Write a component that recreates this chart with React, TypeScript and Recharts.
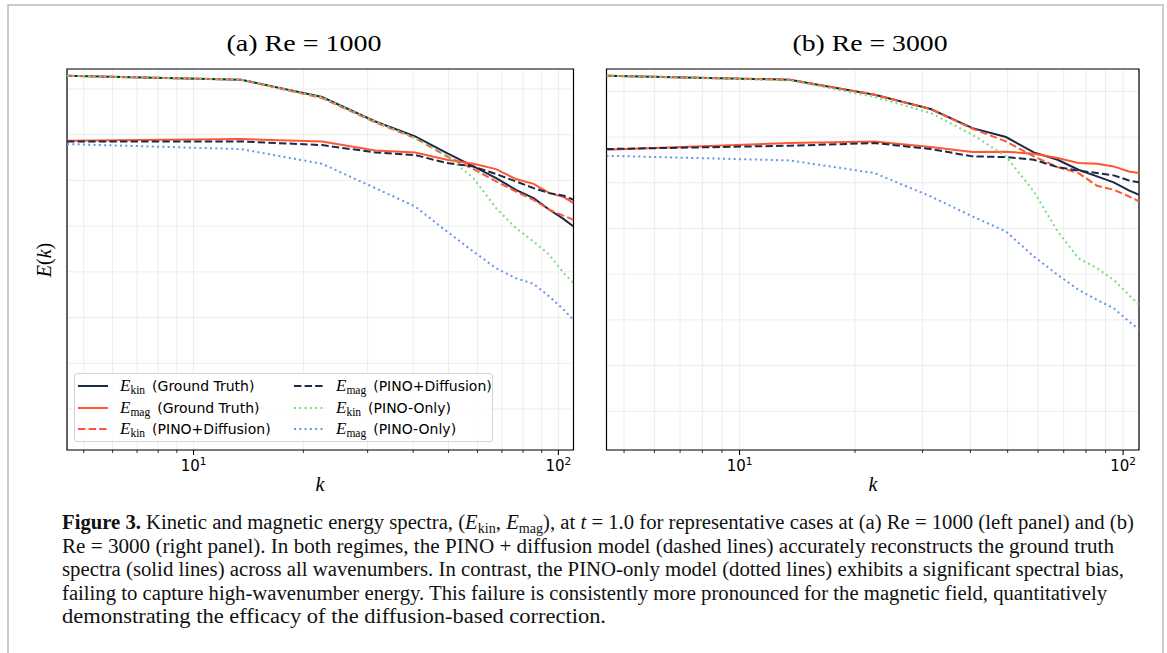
import React from 'react';
import { LineChart, Line, XAxis, YAxis, CartesianGrid, ReferenceArea, Legend } from 'recharts';

// wavenumbers
const kValues = [4.5, 13.5, 22.5, 31.5, 40.5, 49.5, 58.5, 67.5, 76.5, 85.5, 94.5, 103.5, 110];

// (a) Re = 1000
const ekinTrue1000 = [1.95, 1.6, 0.668, 0.195, 0.0916, 0.0397, 0.0202, 0.01125, 0.00624, 0.0041, 0.00228, 0.00142, 0.00098];
const emagTrue1000 = [0.0738, 0.0804, 0.0713, 0.0453, 0.0409, 0.0283, 0.0231, 0.0177, 0.0107, 0.00843, 0.00528, 0.00432, 0.00319];
const ekinDiff1000 = [1.95, 1.6, 0.635, 0.186, 0.0845, 0.0335, 0.0177, 0.0095, 0.00573, 0.00377, 0.00228, 0.00168, 0.00137];
const emagDiff1000 = [0.0713, 0.0713, 0.0594, 0.0409, 0.0359, 0.024, 0.0202, 0.0138, 0.0095, 0.00679, 0.00528, 0.00461, 0.00377];
const ekinPino1000 = [1.95, 1.6, 0.655, 0.195, 0.0845, 0.0335, 0.01125, 0.00248, 0.000904, 0.00046, 0.000235, 0.0000935, 0.0000565];
const emagPino1000 = [0.0625, 0.0485, 0.0231, 0.00679, 0.00269, 0.000762, 0.000278, 0.00012, 0.0000726, 0.0000546, 0.0000288, 0.0000147, 0.00000889];

// (b) Re = 3000
const ekinTrue3000 = [2.2, 1.8, 0.845, 0.41, 0.157, 0.1, 0.0461, 0.0319, 0.0193, 0.0138, 0.0102, 0.00679, 0.00546];
const emagTrue3000 = [0.0528, 0.074, 0.0804, 0.0604, 0.047, 0.0478, 0.0432, 0.0347, 0.027, 0.0261, 0.0228, 0.0177, 0.0163];
const ekinDiff3000 = [2.2, 1.8, 0.845, 0.41, 0.152, 0.0804, 0.0378, 0.022, 0.0163, 0.00859, 0.00703, 0.00502, 0.0039];
const emagDiff3000 = [0.0546, 0.0646, 0.074, 0.0546, 0.0378, 0.0365, 0.0319, 0.022, 0.0183, 0.0163, 0.0145, 0.01125, 0.0102];
const ekinPino3000 = [2.2, 1.74, 0.752, 0.336, 0.1125, 0.0378, 0.00646, 0.000859, 0.000224, 0.000135, 0.0000752, 0.0000352, 0.0000213];
const emagPino3000 = [0.039, 0.0308, 0.0163, 0.00502, 0.00183, 0.000859, 0.000244, 0.0000966, 0.0000454, 0.0000274, 0.000018, 0.0000092, 0.00000625];

// ticks
const xTicks = [5, 6, 7, 8, 9, 10, 20, 30, 40, 50, 60, 70, 80, 90, 100];
const xMajorTicks = [10, 100];
const xMajorExponents = ['1', '2'];
const yTicks = [1, 0.1, 0.01, 0.001, 0.0001, 0.00001, 0.000001, 0.0000001];
const xDomain = [4.5, 110];
const yDomain1000 = [1.265e-8, 2.742];
const yDomain3000 = [1.422e-8, 3.083];

const panelTitles = ['(a) Re = 1000', '(b) Re = 3000'];

const NAVY = '#1b2a47';
const ORANGE = '#ff5733';
const GREEN = '#77dd77';
const BLUE = '#6495ed';

const seriesDefs = [
  { key: 'ekinTrue', sub: 'kin', label: '(Ground Truth)', color: NAVY, dash: undefined as string | undefined },
  { key: 'emagTrue', sub: 'mag', label: '(Ground Truth)', color: ORANGE, dash: undefined as string | undefined },
  { key: 'ekinDiff', sub: 'kin', label: '(PINO+Diffusion)', color: ORANGE, dash: '7.4 3.2' },
  { key: 'emagDiff', sub: 'mag', label: '(PINO+Diffusion)', color: NAVY, dash: '7.4 3.2' },
  { key: 'ekinPino', sub: 'kin', label: '(PINO-Only)', color: GREEN, dash: '2 3.3' },
  { key: 'emagPino', sub: 'mag', label: '(PINO-Only)', color: BLUE, dash: '2 3.3' },
];

const data1000 = kValues.map((k, i) => ({
  k,
  ekinTrue: ekinTrue1000[i],
  emagTrue: emagTrue1000[i],
  ekinDiff: ekinDiff1000[i],
  emagDiff: emagDiff1000[i],
  ekinPino: ekinPino1000[i],
  emagPino: emagPino1000[i],
}));

const data3000 = kValues.map((k, i) => ({
  k,
  ekinTrue: ekinTrue3000[i],
  emagTrue: emagTrue3000[i],
  ekinDiff: ekinDiff3000[i],
  emagDiff: emagDiff3000[i],
  ekinPino: ekinPino3000[i],
  emagPino: emagPino3000[i],
}));

const SERIF = "'Liberation Serif', 'DejaVu Serif', serif";
const SANS = "'DejaVu Sans', sans-serif";

const XTick = (props: any) => {
  const { x, y, payload } = props;
  const v = payload.value;
  const idx = xMajorTicks.indexOf(v);
  const major = idx >= 0;
  return (
    <g>
      <line x1={x} x2={x} y1={y} y2={y + (major ? 5 : 3)} stroke="#000" strokeWidth={major ? 1.1 : 0.8} />
      {major && (
        <text x={x} y={y + 21} textAnchor="middle" fontFamily={SANS} fontSize={15} fill="#000">
          10
          <tspan dy={-6.5} fontSize={10.5}>
            {xMajorExponents[idx]}
          </tspan>
        </text>
      )}
    </g>
  );
};

const YTick = (props: any) => {
  const { x, y } = props;
  return <line x1={x - 5} x2={x} y1={y} y2={y} stroke="#000" strokeWidth={1.1} />;
};

const LegendBox = () => {
  const rowsY = [12, 33.5, 55];
  return (
    <div
      style={{
        position: 'relative',
        width: 419,
        height: 69,
        border: '1px solid #d3d3d3',
        borderRadius: 3,
        background: 'rgba(255,255,255,0.8)',
        boxSizing: 'border-box',
        color: '#000',
      }}
    >
      {seriesDefs.map((s, i) => {
        const col = Math.floor(i / 3);
        const row = i % 3;
        const left = col === 0 ? 3 : 219;
        return (
          <div
            key={s.key}
            style={{
              position: 'absolute',
              left,
              top: rowsY[row] - 11,
              height: 22,
              display: 'flex',
              alignItems: 'center',
              whiteSpace: 'nowrap',
            }}
          >
            <svg width={30} height={22} style={{ display: 'block' }}>
              <line x1={0} x2={30} y1={11} y2={11} stroke={s.color} strokeWidth={2} strokeDasharray={s.dash} />
            </svg>
            <span style={{ marginLeft: 12, fontFamily: SERIF, fontSize: 17, fontStyle: 'italic', lineHeight: '22px' }}>E</span>
            <span style={{ fontFamily: SERIF, fontSize: 11.5, position: 'relative', top: 4, lineHeight: '22px' }}>{s.sub}</span>
            <span style={{ marginLeft: 7, fontFamily: SANS, fontSize: 14, lineHeight: '22px' }}>{s.label}</span>
          </div>
        );
      })}
    </div>
  );
};

type PanelProps = {
  data: any[];
  yDomain: number[];
  width: number;
  margin: { top: number; right: number; bottom: number; left: number };
  showLegend: boolean;
};

const Panel = ({ data, yDomain, width, margin, showLegend }: PanelProps) => (
  <LineChart width={width} height={500} data={data} margin={margin}>
    <CartesianGrid stroke="#e9e9e9" strokeWidth={0.8} />
    <XAxis
      dataKey="k"
      type="number"
      scale="log"
      domain={xDomain}
      allowDataOverflow
      ticks={xTicks}
      interval={0}
      height={30}
      tickSize={0}
      tickMargin={0}
      tickLine={false}
      axisLine={false}
      tick={<XTick />}
    />
    <YAxis
      type="number"
      scale="log"
      domain={yDomain}
      allowDataOverflow
      ticks={yTicks}
      interval={0}
      width={0}
      tickSize={0}
      tickMargin={0}
      tickLine={false}
      axisLine={false}
      tick={<YTick />}
    />
    {seriesDefs.map((s) => (
      <Line
        key={s.key}
        dataKey={s.key}
        type="linear"
        stroke={s.color}
        strokeWidth={2}
        strokeDasharray={s.dash}
        dot={false}
        activeDot={false}
        isAnimationActive={false}
      />
    ))}
    <ReferenceArea
      x1={xDomain[0]}
      x2={xDomain[1]}
      y1={yDomain[0]}
      y2={yDomain[1]}
      fill="none"
      stroke="#000"
      strokeWidth={1.2}
      ifOverflow="visible"
    />
    {showLegend && (
      <Legend
        layout="vertical"
        align="center"
        verticalAlign="middle"
        content={() => <LegendBox />}
        wrapperStyle={{ left: 74, top: 373, width: 419, height: 69 }}
      />
    )}
  </LineChart>
);

const captionX = 62;
const captionLines = [
  { y: 529, w: 1072 },
  { y: 552.6, w: 1052 },
  { y: 576.2, w: 1062 },
  { y: 599.8, w: 1045 },
  { y: 623.4, w: 544 },
];

export default function App() {
  return (
    <div
      style={{
        position: 'absolute',
        left: 0,
        top: 0,
        width: 1167,
        height: 653,
        background: '#fff',
        overflow: 'hidden',
      }}
    >
      <div
        style={{
          position: 'absolute',
          left: 7,
          top: 4,
          width: 1157,
          height: 700,
          boxSizing: 'border-box',
          borderTop: '2px solid #cccccc',
          borderLeft: '2px solid #cccccc',
          borderRight: '2px solid #cccccc',
        }}
      />
      <div style={{ position: 'absolute', left: 0, top: 0 }}>
        <Panel
          data={data1000}
          yDomain={yDomain1000}
          width={600}
          margin={{ top: 69, right: 26.5, bottom: 20, left: 67 }}
          showLegend
        />
      </div>
      <div style={{ position: 'absolute', left: 580, top: 0 }}>
        <Panel
          data={data3000}
          yDomain={yDomain3000}
          width={587}
          margin={{ top: 69, right: 28, bottom: 20, left: 26.5 }}
          showLegend={false}
        />
      </div>
      <svg
        width={1167}
        height={653}
        style={{ position: 'absolute', left: 0, top: 0, pointerEvents: 'none' }}
      >
        <text x={304} y={51} textAnchor="middle" fontFamily={SERIF} fontSize={24} textLength={155} lengthAdjust="spacingAndGlyphs">
          {panelTitles[0]}
        </text>
        <text x={870} y={51} textAnchor="middle" fontFamily={SERIF} fontSize={24} textLength={155} lengthAdjust="spacingAndGlyphs">
          {panelTitles[1]}
        </text>
        <text x={320} y={491} textAnchor="middle" fontFamily={SERIF} fontStyle="italic" fontSize={20}>
          k
        </text>
        <text x={873} y={491} textAnchor="middle" fontFamily={SERIF} fontStyle="italic" fontSize={20}>
          k
        </text>
        <text transform="translate(51,260) rotate(-90)" textAnchor="middle" fontFamily={SERIF} fontSize={20}>
          <tspan fontStyle="italic">E</tspan>
          <tspan>(</tspan>
          <tspan fontStyle="italic">k</tspan>
          <tspan>)</tspan>
        </text>
        <g fontFamily={SERIF} fontSize={20.5} fill="#111">
          <text x={captionX} y={captionLines[0].y} textLength={captionLines[0].w} lengthAdjust="spacingAndGlyphs">
            <tspan fontWeight="bold">{'Figure 3.'}</tspan>
            <tspan>{' Kinetic and magnetic energy spectra, ('}</tspan>
            <tspan fontStyle="italic">{'E'}</tspan>
            <tspan dy={4} fontSize={14}>{'kin'}</tspan>
            <tspan dy={-4}>{', '}</tspan>
            <tspan fontStyle="italic">{'E'}</tspan>
            <tspan dy={4} fontSize={14}>{'mag'}</tspan>
            <tspan dy={-4}>{'), at '}</tspan>
            <tspan fontStyle="italic">{'t'}</tspan>
            <tspan>{' = 1.0 for representative cases at (a) Re = 1000 (left panel) and (b)'}</tspan>
          </text>
          <text x={captionX} y={captionLines[1].y} textLength={captionLines[1].w} lengthAdjust="spacingAndGlyphs">
            {'Re = 3000 (right panel). In both regimes, the PINO + diffusion model (dashed lines) accurately reconstructs the ground truth'}
          </text>
          <text x={captionX} y={captionLines[2].y} textLength={captionLines[2].w} lengthAdjust="spacingAndGlyphs">
            {'spectra (solid lines) across all wavenumbers. In contrast, the PINO-only model (dotted lines) exhibits a significant spectral bias,'}
          </text>
          <text x={captionX} y={captionLines[3].y} textLength={captionLines[3].w} lengthAdjust="spacingAndGlyphs">
            {'failing to capture high-wavenumber energy. This failure is consistently more pronounced for the magnetic field, quantitatively'}
          </text>
          <text x={captionX} y={captionLines[4].y} textLength={captionLines[4].w} lengthAdjust="spacingAndGlyphs">
            {'demonstrating the efficacy of the diffusion-based correction.'}
          </text>
        </g>
      </svg>
    </div>
  );
}
